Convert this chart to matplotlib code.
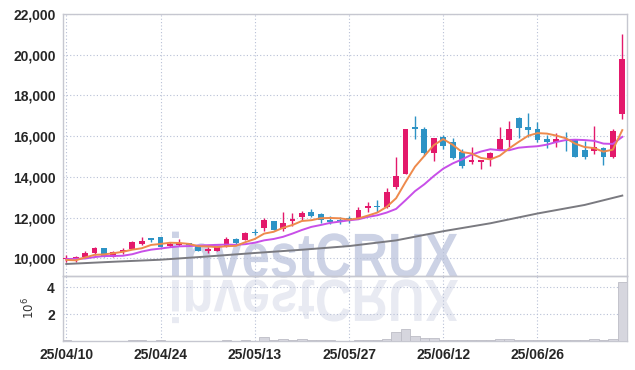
import numpy as np
import matplotlib.pyplot as plt
from matplotlib.textpath import TextPath
from matplotlib.patches import PathPatch
from matplotlib.font_manager import FontProperties
from matplotlib.transforms import Affine2D

# daily OHLC
opens = [9970, 9950, 10050, 10245, 10505, 10080, 10310, 10470, 10700, 11000,
         11045, 10600, 10650, 10730, 10670, 10335, 10375, 10555, 10950, 10900,
         11290, 11500, 11830, 11425, 11845, 12040, 12275, 12160, 11880, 11880,
         11945, 11915, 12485, 12550, 12535, 13515, 14140, 16460, 16350, 15155,
         15955, 15710, 15235, 14745, 14730, 14890, 15330, 15825, 16905, 16460,
         16365, 15860, 15725, 15790, 15845, 15320, 15285, 15430, 14990, 17100]
highs = [10150, 10110, 10370, 10570, 10520, 10370, 10490, 10835, 11030, 11000,
         11045, 10800, 10935, 10760, 10670, 10570, 10600, 11030, 11000, 11305,
         11425, 11965, 11830, 12275, 12210, 12340, 12420, 12225, 12075, 12040,
         12075, 12535, 12750, 12860, 13435, 14990, 16335, 16990, 16430, 15890,
         16055, 15890, 15350, 15480, 14820, 15235, 16430, 16755, 16950, 17120,
         16680, 16055, 16140, 16185, 15845, 15780, 16495, 15480, 16335, 21015]
lows = [9820, 9800, 10010, 10160, 10060, 10050, 10210, 10455, 10650, 10800,
        10540, 10555, 10590, 10620, 10335, 10245, 10335, 10555, 10650, 10900,
        11130, 11355, 11390, 11340, 11585, 11880, 12010, 11720, 11685, 11685,
        11750, 11915, 12275, 12290, 12455, 13390, 14140, 15840, 15020, 14775,
        15350, 14860, 14450, 14615, 14385, 14545, 15330, 15480, 15890, 15940,
        15725, 15400, 15480, 15285, 14990, 14875, 15120, 14580, 14910, 16840]
closes = [10000, 10080, 10275, 10520, 10080, 10295, 10420, 10800, 10865, 10900,
          10540, 10715, 10735, 10650, 10335, 10480, 10555, 10950, 10735, 11240,
          11260, 11880, 11390, 11720, 11930, 12240, 12075, 11880, 11780, 11850,
          11915, 12370, 12570, 12520, 13255, 14040, 16335, 16335, 15185, 15890,
          15530, 14940, 14545, 14825, 14810, 15170, 15845, 16350, 16410, 16315,
          15825, 15725, 15860, 15760, 14990, 14990, 15465, 14990, 16250, 19785]
volumes = [0.08, 0.03, 0.02, 0.03, 0.03, 0.02, 0.03, 0.08, 0.08, 0.03,
           0.08, 0.02, 0.02, 0.02, 0.02, 0.02, 0.03, 0.08, 0.03, 0.08,
           0.03, 0.30, 0.06, 0.15, 0.06, 0.15, 0.08, 0.08, 0.08, 0.03,
           0.03, 0.07, 0.07, 0.07, 0.15, 0.70, 0.92, 0.38, 0.23, 0.23,
           0.08, 0.05, 0.10, 0.05, 0.05, 0.05, 0.18, 0.18, 0.10, 0.10,
           0.05, 0.05, 0.05, 0.10, 0.04, 0.04, 0.18, 0.05, 0.18, 4.40]  # x 10^6

# moving average lines as they appear on the chart
ma_short = [9920, 9900, 10040, 10170, 10190, 10250, 10318, 10423, 10492, 10656,
            10705, 10764, 10751, 10708, 10595, 10583, 10551, 10594, 10611, 10792,
            10948, 11213, 11301, 11498, 11636, 11832, 11871, 11969, 11981, 11965,
            11900, 11959, 12097, 12245, 12526, 12951, 13744, 14497, 15030, 15557,
            15855, 15576, 15218, 15146, 14930, 14858, 15039, 15400, 15717, 16018,
            16149, 16125, 16027, 15897, 15632, 15465, 15413, 15239, 15337, 16296]
ma_mid = [9960, 9975, 9990, 10060, 10110, 10115, 10125, 10200, 10330, 10424,
          10478, 10541, 10587, 10600, 10626, 10644, 10658, 10673, 10660, 10694,
          10766, 10882, 10948, 11055, 11214, 11390, 11542, 11635, 11740, 11801,
          11866, 11915, 12033, 12113, 12246, 12426, 12852, 13297, 13638, 14042,
          14403, 14660, 14858, 15088, 15244, 15357, 15308, 15309, 15432, 15474,
          15504, 15582, 15714, 15807, 15825, 15807, 15769, 15633, 15617, 15964]
ma_long_idx = [0, 5, 10, 15, 20, 25, 30, 35, 40, 45, 50, 55, 59]
ma_long = [9720, 9830, 9930, 10090, 10260, 10420, 10600, 10880, 11330, 11720,
           12200, 12620, 13080]

date_idx = [0, 10, 20, 30, 40, 50]
date_labels = ['25/04/10', '25/04/24', '25/05/13', '25/05/27', '25/06/12', '25/06/26']

up_col = '#e3196b'
down_col = '#2d93c5'
grid_col = '#b8c0d6'
spine_col = '#c6c7d0'
label_font = ['Liberation Sans', 'DejaVu Sans']

W, H = 635, 370
fig = plt.figure(figsize=(W / 100, H / 100), dpi=100)
ax = fig.add_axes([63 / W, 1 - 276 / H, 564 / W, 262 / H])
axv = fig.add_axes([63 / W, 1 - 341 / H, 564 / W, 65 / H], sharex=ax)
for a in (ax, axv):
    a.set_facecolor('none')
    for s in a.spines.values():
        s.set_color(spine_col)
        s.set_linewidth(1.0)
    a.grid(True, linestyle=(0, (1, 2)), color=grid_col, linewidth=0.8)
    a.tick_params(length=0, labelsize=10, labelcolor='#262626')
    a.set_axisbelow(True)

# watermark with reflection
fp = FontProperties(family=['Liberation Sans', 'DejaVu Sans'], weight='bold')
tp = TextPath((0, 0), 'investCRUX', size=100, prop=fp)
bb = tp.get_extents()
sx = 286 / bb.width
sy = 46 / bb.height
x0 = 172 - bb.x0 * sx
base = H - 277
wm = PathPatch(tp, transform=Affine2D().scale(sx, sy).translate(x0, base),
               facecolor='#ccd2e5', edgecolor='none', zorder=-5)
wm_ref = PathPatch(tp, transform=Affine2D().scale(sx, -sy * 0.95).translate(x0, base - 3),
                   facecolor='#e8eaf2', edgecolor='none', zorder=-5)
fig.add_artist(wm)
fig.add_artist(wm_ref)

x = np.arange(len(closes))
for i in x:
    o, h, l, c = opens[i], highs[i], lows[i], closes[i]
    col = up_col if c >= o else down_col
    ax.vlines(i, l, h, color=col, linewidth=1.0, zorder=3)
    bot = min(o, c)
    hgt = max(abs(c - o), 45)
    ax.bar(i, hgt, bottom=bot, width=0.62, color=col, zorder=4)

ax.plot(ma_long_idx, ma_long, color='#7a7a80', linewidth=1.4, zorder=5)
ax.plot(x, ma_mid, color='#c84fe8', linewidth=1.4, zorder=5)
ax.plot(x, ma_short, color='#ee8a4c', linewidth=1.4, zorder=6)

ax.set_ylim(9130, 22000)
ax.set_xlim(-0.35, 59.5)
yt = np.arange(10000, 22001, 2000)
ax.set_yticks(yt)
ax.set_yticklabels([f'{v:,}' for v in yt], family=label_font, weight='bold')
ax.set_xticks(date_idx)
ax.tick_params(axis='x', labelbottom=False)
ax.tick_params(axis='y', pad=5)

axv.bar(x, np.array(volumes) * 1e6, width=1.0, color='#d6d6de', edgecolor='#bdbdc6',
        linewidth=0.6, zorder=3)
axv.set_ylim(0, 4.85e6)
axv.set_yticks([2e6, 4e6])
axv.set_yticklabels(['2', '4'], family=label_font, weight='bold')
axv.set_ylabel(r'$10^6$', fontsize=8.5, color='#333333', labelpad=7)
axv.set_xticks(date_idx)
axv.set_xticklabels(date_labels, family=label_font, weight='bold')
axv.tick_params(axis='x', pad=5)
axv.tick_params(axis='y', pad=6)

fig.savefig('out.png', dpi=100)
